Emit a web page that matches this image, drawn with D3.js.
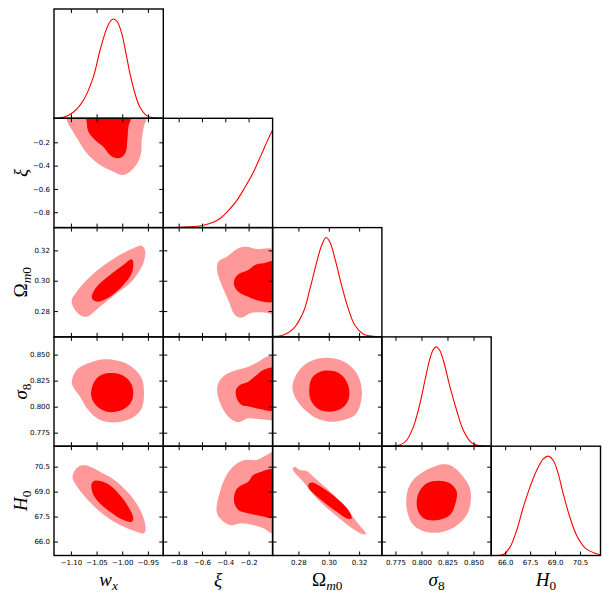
<!DOCTYPE html>
<html>
<head>
<meta charset="utf-8">
<script src="https://cdn.jsdelivr.net/npm/d3@7"></script>
<style>
  body { margin: 0; background: #fff; }
</style>
</head>
<body>
<svg id="chart"></svg>
<script>
// 参数范围与刻度
const wxDomain = [-1.133, -0.92]
const xiDomain = [-0.932, 0.006]
const omDomain = [0.263, 0.335]
const s8Domain = [0.762, 0.867]
const h0Domain = [65.16, 71.73]

const wxTicks = [-1.10, -1.05, -1.00, -0.95]
const xiTicks = [-0.8, -0.6, -0.4, -0.2]
const omTicks = [0.28, 0.30, 0.32]
const s8Ticks = [0.775, 0.800, 0.825, 0.850]
const h0Ticks = [66.0, 67.5, 69.0, 70.5]

// 一维边缘分布 [value, density]
const wxPdf = [[-1.133, 0], [-1.1149, 0.010], [-1.0954, 0.061], [-1.0759, 0.180], [-1.0564, 0.415], [-1.0433, 0.685], [-1.0303, 0.905], [-1.0239, 0.972], [-1.0174, 1.0], [-1.0096, 0.972], [-1.0010, 0.854], [-0.9927, 0.652], [-0.9849, 0.449], [-0.9751, 0.247], [-0.9654, 0.111], [-0.9523, 0.027], [-0.9361, 0.004], [-0.9192, 0]]
const xiPdf = [[-0.929, 0], [-0.789, 0.003], [-0.674, 0.010], [-0.588, 0.023], [-0.503, 0.053], [-0.431, 0.104], [-0.374, 0.171], [-0.302, 0.272], [-0.231, 0.406], [-0.159, 0.557], [-0.088, 0.742], [-0.031, 0.893], [0.004, 0.976]]
const omPdf = [[0.2635, 0.006], [0.2701, 0.020], [0.2766, 0.081], [0.2832, 0.248], [0.2876, 0.483], [0.2920, 0.751], [0.2953, 0.919], [0.2982, 1.0], [0.3008, 0.952], [0.3041, 0.785], [0.3085, 0.516], [0.3129, 0.282], [0.3173, 0.114], [0.3227, 0.030], [0.3293, 0.006], [0.3352, 0.003]]
const s8Pdf = [[0.7624, 0], [0.7794, 0.013], [0.7858, 0.060], [0.7922, 0.194], [0.7986, 0.430], [0.8034, 0.664], [0.8082, 0.883], [0.8114, 0.973], [0.8140, 1.0], [0.8171, 0.973], [0.8210, 0.865], [0.8274, 0.597], [0.8338, 0.362], [0.8402, 0.161], [0.8483, 0.033], [0.8563, 0.003], [0.8675, 0]]
const h0Pdf = [[65.16, 0], [65.89, 0.010], [66.29, 0.084], [66.69, 0.252], [67.09, 0.486], [67.49, 0.688], [67.89, 0.856], [68.29, 0.973], [68.59, 1.0], [68.89, 0.956], [69.19, 0.822], [69.49, 0.621], [69.89, 0.385], [70.30, 0.201], [70.80, 0.077], [71.40, 0.023], [71.73, 0.007]]

// 二维置信区域轮廓 [列参数, 行参数]，95% 与 68%
const wxXi95 = [[-1.108, 0.02], [-0.954, 0.02], [-0.958, -0.066], [-0.962, -0.180], [-0.963, -0.281], [-0.969, -0.366], [-0.985, -0.452], [-0.999, -0.481], [-1.017, -0.452], [-1.043, -0.395], [-1.069, -0.294], [-1.086, -0.180], [-1.098, -0.094], [-1.107, -0.023]]
const wxXi68 = [[-1.069, 0.02], [-0.984, 0.02], [-0.988, -0.066], [-0.990, -0.180], [-0.993, -0.281], [-1.001, -0.329], [-1.011, -0.337], [-1.024, -0.309], [-1.037, -0.238], [-1.053, -0.180], [-1.066, -0.109], [-1.069, -0.037]]
const wxOm95 = [[-1.0985, 0.2873], [-1.0888, 0.2928], [-1.0693, 0.3005], [-1.0433, 0.3082], [-1.0108, 0.3158], [-0.9784, 0.3214], [-0.9621, 0.3231], [-0.9556, 0.3202], [-0.9570, 0.3137], [-0.9654, 0.3071], [-0.9849, 0.2983], [-1.0108, 0.2917], [-1.0433, 0.2829], [-1.0693, 0.2763], [-1.0823, 0.2774], [-1.0940, 0.2818]]
const wxOm68 = [[-1.0595, 0.2895], [-1.0498, 0.2961], [-1.0239, 0.3038], [-0.9979, 0.3104], [-0.9816, 0.3141], [-0.9784, 0.3115], [-0.9816, 0.3049], [-0.9979, 0.2972], [-1.0239, 0.2895], [-1.0467, 0.2862], [-1.0564, 0.2873]]
const wxS895 = [[-1.0985, 0.8240], [-1.0888, 0.8352], [-1.0661, 0.8416], [-1.0369, 0.8455], [-1.0077, 0.8441], [-0.9816, 0.8384], [-0.9621, 0.8272], [-0.9576, 0.8128], [-0.9621, 0.7984], [-0.9784, 0.7898], [-1.0108, 0.7850], [-1.0433, 0.7872], [-1.0661, 0.7968], [-1.0823, 0.8096], [-1.0940, 0.8176]]
const wxS868 = [[-1.0595, 0.8176], [-1.0498, 0.8272], [-1.0303, 0.8320], [-1.0044, 0.8311], [-0.9849, 0.8240], [-0.9784, 0.8128], [-0.9849, 0.8025], [-1.0044, 0.7961], [-1.0303, 0.7951], [-1.0498, 0.8006], [-1.0595, 0.8080]]
const wxH095 = [[-1.0954, 70.10], [-1.0856, 70.50], [-1.0726, 70.58], [-1.0433, 70.20], [-1.0108, 69.60], [-0.9816, 68.69], [-0.9621, 67.70], [-0.9543, 66.80], [-0.9576, 66.49], [-0.9718, 66.59], [-1.0044, 66.99], [-1.0433, 67.79], [-1.0726, 68.69], [-1.0901, 69.40], [-1.0966, 69.80]]
const wxH068 = [[-1.0595, 69.50], [-1.0531, 69.66], [-1.0303, 69.50], [-1.0077, 68.90], [-0.9882, 68.09], [-0.9784, 67.40], [-0.9816, 67.19], [-0.9979, 67.29], [-1.0239, 67.79], [-1.0467, 68.39], [-1.0576, 68.90]]
const xiOm95 = [[0.02, 0.3202], [-0.031, 0.3214], [-0.130, 0.3209], [-0.216, 0.3224], [-0.288, 0.3214], [-0.388, 0.3158], [-0.460, 0.3125], [-0.469, 0.3060], [-0.431, 0.2972], [-0.374, 0.2873], [-0.317, 0.2774], [-0.259, 0.2757], [-0.188, 0.2786], [-0.102, 0.2792], [-0.031, 0.2786], [0.02, 0.2779]]
const xiOm68 = [[0.02, 0.3125], [-0.074, 0.3115], [-0.145, 0.3104], [-0.203, 0.3071], [-0.274, 0.3049], [-0.317, 0.3016], [-0.325, 0.2972], [-0.288, 0.2928], [-0.203, 0.2895], [-0.102, 0.2867], [0.02, 0.2867]]
const xiS895 = [[0.02, 0.8487], [-0.045, 0.8480], [-0.117, 0.8432], [-0.203, 0.8384], [-0.302, 0.8352], [-0.402, 0.8304], [-0.460, 0.8224], [-0.469, 0.8144], [-0.431, 0.8000], [-0.360, 0.7888], [-0.288, 0.7850], [-0.203, 0.7888], [-0.117, 0.7881], [-0.031, 0.7872], [0.02, 0.7872]]
const xiS868 = [[0.02, 0.8368], [-0.074, 0.8352], [-0.130, 0.8304], [-0.203, 0.8240], [-0.274, 0.8208], [-0.308, 0.8160], [-0.302, 0.8080], [-0.259, 0.8016], [-0.188, 0.8000], [-0.102, 0.7977], [0.02, 0.7968]]
const xiH095 = [[0.02, 71.40], [-0.045, 71.20], [-0.130, 70.90], [-0.231, 70.90], [-0.317, 70.60], [-0.388, 70.00], [-0.446, 68.99], [-0.474, 67.79], [-0.431, 67.29], [-0.360, 66.99], [-0.259, 67.10], [-0.160, 66.99], [-0.074, 66.80], [0.02, 66.49]]
const xiH068 = [[0.02, 70.30], [-0.088, 70.20], [-0.160, 70.00], [-0.203, 69.60], [-0.259, 69.40], [-0.308, 69.10], [-0.325, 68.40], [-0.288, 67.90], [-0.203, 67.70], [-0.102, 67.55], [0.02, 67.49]]
const omS895 = [[0.2766, 0.8240], [0.2799, 0.8336], [0.2855, 0.8416], [0.2942, 0.8464], [0.3030, 0.8464], [0.3118, 0.8416], [0.3184, 0.8320], [0.3217, 0.8176], [0.3210, 0.8032], [0.3173, 0.7920], [0.3096, 0.7872], [0.3008, 0.7855], [0.2920, 0.7888], [0.2843, 0.7968], [0.2789, 0.8064], [0.2762, 0.8160]]
const omS868 = [[0.2872, 0.8176], [0.2888, 0.8272], [0.2942, 0.8336], [0.3030, 0.8342], [0.3096, 0.8288], [0.3133, 0.8176], [0.3129, 0.8064], [0.3085, 0.7984], [0.3008, 0.7951], [0.2931, 0.7977], [0.2881, 0.8064]]
const omH095 = [[0.2762, 70.40], [0.2778, 70.50], [0.2810, 70.30], [0.2855, 70.24], [0.2898, 69.90], [0.2986, 69.20], [0.3096, 68.20], [0.3184, 67.19], [0.3245, 66.45], [0.3227, 66.43], [0.3140, 66.89], [0.3030, 67.70], [0.2920, 68.60], [0.2832, 69.60], [0.2771, 70.20]]
const omH068 = [[0.2872, 69.50], [0.2898, 69.54], [0.2964, 69.20], [0.3052, 68.60], [0.3129, 67.90], [0.3151, 67.40], [0.3129, 67.35], [0.3052, 67.79], [0.2964, 68.39], [0.2888, 68.99], [0.2865, 69.30]]
const s8H095 = [[0.7858, 68.80], [0.7906, 69.60], [0.8018, 70.20], [0.8146, 70.56], [0.8210, 70.64], [0.8291, 70.54], [0.8387, 70.00], [0.8466, 69.20], [0.8473, 68.39], [0.8435, 67.59], [0.8322, 66.89], [0.8178, 66.55], [0.8034, 66.59], [0.7922, 66.99], [0.7864, 67.79]]
const s8H068 = [[0.7954, 68.39], [0.7979, 68.99], [0.8050, 69.50], [0.8162, 69.66], [0.8274, 69.50], [0.8339, 68.99], [0.8322, 68.20], [0.8274, 67.59], [0.8162, 67.29], [0.8034, 67.35], [0.7970, 67.79]]

// 参数表（按顺序）
const params = [
  { domain: wxDomain, ticks: wxTicks, fmt: '.2f', pdf: wxPdf, label: [{ t: 'w', i: true }, { t: 'x', i: true, sub: true }] },
  { domain: xiDomain, ticks: xiTicks, fmt: '.1f', pdf: xiPdf, label: [{ t: 'ξ', i: true }] },
  { domain: omDomain, ticks: omTicks, fmt: '.2f', pdf: omPdf, label: [{ t: 'Ω' }, { t: 'm', i: true, sub: true }, { t: '0', sub: true }] },
  { domain: s8Domain, ticks: s8Ticks, fmt: '.3f', pdf: s8Pdf, label: [{ t: 'σ', i: true }, { t: '8', sub: true }] },
  { domain: h0Domain, ticks: h0Ticks, fmt: '.1f', pdf: h0Pdf, label: [{ t: 'H', i: true }, { t: '0', sub: true }] }
]

// 二维面板 [行, 列, 95%, 68%]
const pairs = [
  [1, 0, wxXi95, wxXi68],
  [2, 0, wxOm95, wxOm68],
  [3, 0, wxS895, wxS868],
  [4, 0, wxH095, wxH068],
  [2, 1, xiOm95, xiOm68],
  [3, 1, xiS895, xiS868],
  [4, 1, xiH095, xiH068],
  [3, 2, omS895, omS868],
  [4, 2, omH095, omH068],
  [4, 3, s8H095, s8H068]
]

const width = 611
const height = 600
const marginLeft = 54
const marginTop = 9
const size = 109.3
const n = params.length
const tickLen = 4

const svg = d3.select('#chart')
  .attr('width', width)
  .attr('height', height)
  .style('display', 'block')

const xs = params.map(p => d3.scaleLinear().domain(p.domain).range([0, size]))
const ys = params.map(p => d3.scaleLinear().domain(p.domain).range([size, 0]))
const dens = d3.scaleLinear().domain([0, 1.1]).range([size, 0])

const defs = svg.append('defs')
defs.append('clipPath').attr('id', 'panel-clip')
  .append('rect').attr('width', size).attr('height', size)

function panel(r, c) {
  return svg.append('g').attr('transform', `translate(${marginLeft + c * size},${marginTop + r * size})`)
}

// 坐标刻度（朝内，四边）
function drawTicks(g, r, c, diag) {
  const ax = g.append('g').attr('class', 'ticks')
  ax.append('g').attr('transform', `translate(0,${size})`)
    .call(d3.axisBottom(xs[c]).tickValues(params[c].ticks).tickSize(-tickLen).tickFormat(''))
  ax.append('g')
    .call(d3.axisTop(xs[c]).tickValues(params[c].ticks).tickSize(-tickLen).tickFormat(''))
  if (!diag) {
    ax.append('g')
      .call(d3.axisLeft(ys[r]).tickValues(params[r].ticks).tickSize(-tickLen).tickFormat(''))
    ax.append('g').attr('transform', `translate(${size},0)`)
      .call(d3.axisRight(ys[r]).tickValues(params[r].ticks).tickSize(-tickLen).tickFormat(''))
  }
  ax.selectAll('.domain').remove()
  ax.selectAll('line').attr('stroke', '#000').attr('stroke-width', 1)
}

function border(g) {
  g.append('rect')
    .attr('width', size).attr('height', size)
    .attr('fill', 'none').attr('stroke', '#000').attr('stroke-width', 1.4)
}

// 对角线：一维分布
params.forEach((p, i) => {
  const g = panel(i, i)
  const line = d3.line()
    .x(d => xs[i](d[0]))
    .y(d => dens(d[1]))
    .curve(d3.curveCatmullRom.alpha(0.5))
  g.append('path')
    .attr('clip-path', 'url(#panel-clip)')
    .attr('d', line(p.pdf))
    .attr('fill', 'none')
    .attr('stroke', '#ff0000')
    .attr('stroke-width', 1.1)
  drawTicks(g, i, i, true)
  border(g)
})

// 下三角：二维置信区域
pairs.forEach(([r, c, outer, inner]) => {
  const g = panel(r, c)
  const area = d3.line()
    .x(d => xs[c](d[0]))
    .y(d => ys[r](d[1]))
    .curve(d3.curveCatmullRomClosed.alpha(0.5))
  const body = g.append('g').attr('clip-path', 'url(#panel-clip)')
  body.append('path').attr('d', area(outer)).attr('fill', '#ff9999')
  body.append('path').attr('d', area(inner)).attr('fill', '#ff0000')
  drawTicks(g, r, c, false)
  border(g)
})

// 刻度标签：底行 x，左列 y
const labelFont = "'DejaVu Sans', sans-serif"
params.forEach((p, c) => {
  const ax = svg.append('g')
    .attr('transform', `translate(${marginLeft + c * size},${marginTop + n * size})`)
    .call(d3.axisBottom(xs[c]).tickValues(p.ticks).tickSize(0).tickPadding(5).tickFormat(d3.format(p.fmt)))
  ax.select('.domain').remove()
  ax.selectAll('text').style('font-family', labelFont).style('font-size', '7px').attr('fill', '#000')
})
params.forEach((p, r) => {
  if (r === 0) return
  const ax = svg.append('g')
    .attr('transform', `translate(${marginLeft},${marginTop + r * size})`)
    .call(d3.axisLeft(ys[r]).tickValues(p.ticks).tickSize(0).tickPadding(4).tickFormat(d3.format(p.fmt)))
  ax.select('.domain').remove()
  ax.selectAll('text').style('font-family', labelFont).style('font-size', '7px').attr('fill', '#000')
})

// 参数名（数学字体）
function mathLabel(sel, parts) {
  let subbed = false
  parts.forEach(part => {
    const ts = sel.append('tspan').text(part.t)
    if (part.i) ts.attr('font-style', 'italic')
    if (part.sub) {
      ts.attr('font-size', '0.7em')
      if (!subbed) { ts.attr('dy', '0.3em'); subbed = true }
    }
  })
}

const mathFont = "'Liberation Serif', 'DejaVu Serif', serif"
params.forEach((p, c) => {
  const t = svg.append('text')
    .attr('x', marginLeft + (c + 0.5) * size)
    .attr('y', 586)
    .attr('text-anchor', 'middle')
    .style('font-family', mathFont)
    .style('font-size', '19px')
  mathLabel(t, p.label)
})
params.forEach((p, r) => {
  if (r === 0) return
  const t = svg.append('text')
    .attr('transform', `translate(27,${marginTop + (r + 0.5) * size}) rotate(-90)`)
    .attr('text-anchor', 'middle')
    .style('font-family', mathFont)
    .style('font-size', '19px')
  mathLabel(t, p.label)
})
</script>
</body>
</html>
